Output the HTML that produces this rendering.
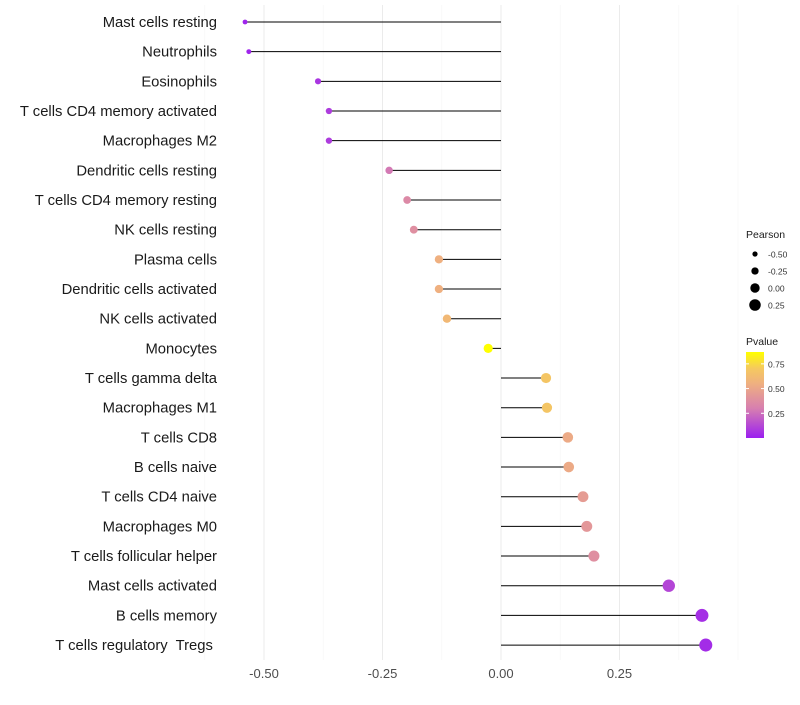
<!DOCTYPE html>
<html><head><meta charset="utf-8"><style>
body{margin:0;background:#fff;font-family:"Liberation Sans",sans-serif}
text{white-space:pre}
</style></head><body>
<svg id="c" width="800" height="700" xmlns="http://www.w3.org/2000/svg"></svg>
<script>
const categories=["Mast cells resting","Neutrophils","Eosinophils","T cells CD4 memory activated","Macrophages M2","Dendritic cells resting","T cells CD4 memory resting","NK cells resting","Plasma cells","Dendritic cells activated","NK cells activated","Monocytes","T cells gamma delta","Macrophages M1","T cells CD8","B cells naive","T cells CD4 naive","Macrophages M0","T cells follicular helper","Mast cells activated","B cells memory","T cells regulatory  Tregs "];
const pearson=[-0.540,-0.532,-0.386,-0.363,-0.363,-0.236,-0.198,-0.184,-0.131,-0.131,-0.114,-0.027,0.095,0.097,0.141,0.143,0.173,0.181,0.196,0.354,0.424,0.432];
const pvalue=[0.02,0.02,0.07,0.09,0.09,0.28,0.35,0.38,0.55,0.55,0.6,0.87,0.68,0.68,0.52,0.52,0.45,0.42,0.38,0.12,0.05,0.04];
const xTicks=[-0.5,-0.25,0,0.25];
const xTickLabels=["-0.50","-0.25","0.00","0.25"];
const sizeLegend=[-0.5,-0.25,0,0.25];
const colorTicks=[0.25,0.5,0.75];

const S=document.getElementById('c'),NS="http://www.w3.org/2000/svg";
function mk(t,a,p){const e=document.createElementNS(NS,t);for(const k in a)e.setAttribute(k,a[k]);(p||S).appendChild(e);return e;}
const x=v=>501+v*474;
const y=i=>22+i*29.67;
const r=v=>4.7+4.2*v;
const stops=[[0,[155,31,240]],[0.3,[215,127,176]],[0.55,[239,176,128]],[0.7,[245,200,96]],[0.87,[255,255,0]]];
function col(p){if(p<=stops[0][0])return `rgb(${stops[0][1]})`;for(let i=1;i<stops.length;i++){if(p<=stops[i][0]){const a=stops[i-1],b=stops[i],t=(p-a[0])/(b[0]-a[0]);return `rgb(${a[1].map((c,j)=>Math.round(c+(b[1][j]-c)*t))})`;}}return `rgb(${stops[stops.length-1][1]})`;}
for(let v=-0.625;v<=0.5;v+=0.125){const major=xTicks.some(t=>Math.abs(t-v)<1e-9);const g=mk('line',{x1:x(v),x2:x(v),y1:5,y2:660,stroke:major?'#ebebeb':'#f5f5f5','stroke-width':major?1:0.6});

}
xTicks.forEach((v,i)=>{const t=mk('text',{x:x(v),y:678,'text-anchor':'middle','font-size':13,fill:'#4d4d4d'});t.textContent=xTickLabels[i];

});
categories.forEach((c,i)=>{
const t=mk('text',{x:217,y:y(i)+5,'text-anchor':'end','font-size':14.8,fill:'#1a1a1a'});t.textContent=c;


const l=mk('line',{x1:x(0),x2:x(pearson[i]),y1:y(i),y2:y(i),stroke:'#000','stroke-width':1});


const d=mk('circle',{cx:x(pearson[i]),cy:y(i),r:r(pearson[i]),fill:col(pvalue[i])});


});
let t=mk('text',{x:746,y:238,'font-size':10.5,fill:'#1a1a1a'});t.textContent="Pearson";


sizeLegend.forEach((v,i)=>{const yy=254+i*17;
const c=mk('circle',{cx:755,cy:yy,r:r(v),fill:'#000'});


const tt=mk('text',{x:768,y:yy+3.5,'font-size':8.5,fill:'#333'});tt.textContent=v.toFixed(2);

});
t=mk('text',{x:746,y:345,'font-size':10.5,fill:'#1a1a1a'});t.textContent="Pvalue";


const defs=mk('defs',{});const lg=mk('linearGradient',{id:'g',x1:0,y1:1,x2:0,y2:0},defs);
const pmin=0.0,pmax=0.87;
stops.forEach(s=>mk('stop',{offset:(s[0]-pmin)/(pmax-pmin),'stop-color':`rgb(${s[1]})`},lg));
const cb=mk('rect',{x:746,y:352,width:18,height:86,fill:'url(#g)'});


const cy=p=>438-(p-pmin)/(pmax-pmin)*86;
colorTicks.forEach(p=>{const tt=mk('text',{x:768,y:cy(p)+3.5,'font-size':8.5,fill:'#333'});tt.textContent=p.toFixed(2);


mk('line',{x1:746,x2:749,y1:cy(p),y2:cy(p),stroke:'#fff'});mk('line',{x1:761,x2:764,y1:cy(p),y2:cy(p),stroke:'#fff'});});
</script>
</body></html>
